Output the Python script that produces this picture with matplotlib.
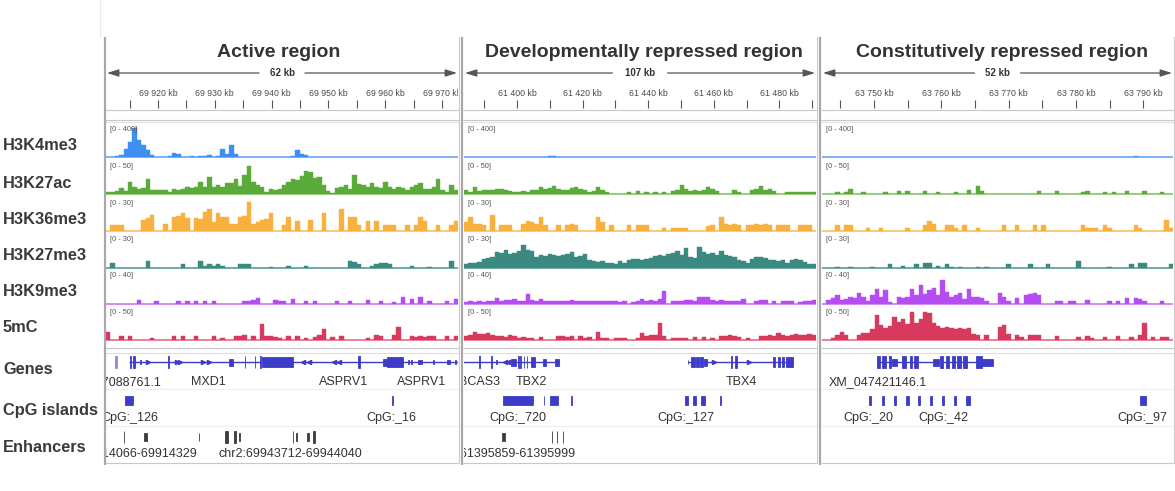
import matplotlib
matplotlib.use('Agg')
import matplotlib.pyplot as plt
from matplotlib.patches import Rectangle
import numpy as np

plt.rcParams['font.family'] = ['Liberation Sans', 'DejaVu Sans']

W, H = 1175, 491

# ------------------------------------------------------------------ data
panel_titles = ['Active region', 'Developmentally repressed region', 'Constitutively repressed region']
panel_spans = ['62 kb', '107 kb', '52 kb']
panel_ranges_kb = [(69910.85, 69972.8), (61383.8, 61491.2), (63742.3, 63794.4)]
panel_ticks_kb = [list(range(69915, 69971, 5)), list(range(61390, 61491, 10)), list(range(63745, 63791, 5))]
panel_labeled_ticks_kb = [[69920, 69930, 69940, 69950, 69960, 69970],
                          [61400, 61420, 61440, 61460, 61480],
                          [63750, 63760, 63770, 63780, 63790]]

track_names = ['H3K4me3', 'H3K27ac', 'H3K36me3', 'H3K27me3', 'H3K9me3', '5mC']
track_max = [400, 50, 30, 30, 40, 50]
feature_track_names = ['Genes', 'CpG islands', 'Enhancers']

# signal values, 80 equal bins across each panel
h3k4me3_active = [0,10,20,30,110,190,370,220,160,90, 30,12,8,5,15,60,45,8,5,15,
                  10,15,20,25,10,15,100,40,150,40, 10,0,5,0,0,0,0,0,0,0,
                  0,0,20,90,45,35,10,10,0,0, 0,0,0,0,0,0,0,0,5,3,
                  0,0,0,0,0,0,0,0,0,0, 0,0,0,0,0,0,0,0,0,0]
h3k27ac_active = [3,3,5,10,5,19,12,8,10,24, 6,7,6,7,4,8,7,8,12,10,
                  12,20,11,27,12,14,11,17,18,24, 13,30,44,20,14,12,4,8,7,9,
                  15,20,24,22,28,37,35,25,27,15, 5,2,10,12,15,8,30,16,14,12,
                  17,11,10,20,12,9,11,10,7,12, 14,17,9,8,12,24,6,4,15,6]
h3k36me3_active = [0,6,6,6,0,0,0,0,10,12, 15,0,0,7,0,13,14,17,12,0,
                   12,11,18,21,8,17,13,13,7,7, 13,14,27,7,8,10,11,17,0,0,
                   6,13,0,9,0,0,10,0,0,17, 0,0,0,21,0,13,13,6,0,9,
                   0,9,0,6,6,6,0,0,6,0, 6,13,9,0,0,6,0,0,6,9]
h3k27me3_active = [0,4,0,0,0,0,0,0,0,6, 0,0,0,0,0,0,0,3,0,0,
                   0,6,2,3,2,3,2,0,0,0, 3,3,3,0,0,0,0,1,0,0,
                   0,2,0,0,0,2,0,0,0,0, 0,0,0,0,0,6,5,3,0,0,
                   2,3,4,4,3,0,0,0,0,2, 0,0,0,1,0,0,0,0,6,0]
h3k9me3_active = [0,0,0,0,0,0,0,5,0,0, 0,4,0,0,0,0,3,0,4,0,
                  4,0,3,0,3,0,0,0,0,0, 0,3,4,5,7,0,0,0,5,3,
                  4,0,6,0,0,4,0,4,0,0, 0,0,3,0,0,4,0,0,0,5,
                  0,0,4,0,0,2,0,9,0,6, 0,9,0,3,0,0,0,3,0,6]
mc5_active = [13,0,0,6,0,6,0,0,0,0, 4,0,0,0,0,6,0,6,0,0,
              6,0,0,0,6,0,4,0,0,7, 6,8,0,6,0,25,7,6,5,4,
              0,6,0,6,0,3,0,5,8,17, 0,5,0,6,0,0,0,0,0,3,
              0,8,6,0,0,8,21,0,0,6, 5,6,5,6,7,0,0,7,0,7]

h3k4me3_dev = [0,0,0,0,0,0,0,0,10,0, 10,0,8,0,8,0,0,0,0,20,
               18,10,0,0,0,0,0,0,0,0, 0,0,0,0,0,0,0,0,0,0,
               0,0,0,0,8,0,0,0,0,0, 0,0,0,8,0,0,0,0,0,0,
               0,0,0,0,0,0,0,0,0,0, 8,0,0,0,0,0,0,0,0,0]
h3k27ac_dev = [6,4,12,5,6,6,7,8,9,6, 5,4,3,5,4,6,6,12,8,10,
               13,8,6,7,10,12,8,6,4,5, 12,7,4,0,0,0,0,4,0,5,
               0,3,0,4,0,4,0,5,6,15, 8,5,6,5,7,12,8,5,0,0,
               0,7,3,0,0,6,9,13,6,8, 5,0,0,4,4,3,4,3,4,3]
h3k36me3_dev = [8,13,7,7,6,0,15,0,6,6, 6,0,0,7,9,8,7,13,6,0,
                0,6,0,6,7,6,0,0,0,0, 13,8,0,6,0,0,0,6,0,6,
                6,6,0,0,0,3,0,3,3,3, 3,0,0,0,0,5,6,0,13,7,
                6,7,6,0,6,6,7,6,7,6, 0,6,6,6,0,0,6,6,6,0]
h3k27me3_dev = [3,4,4,5,8,9,10,15,14,17, 13,14,16,21,17,16,10,12,11,13,
                12,11,12,13,15,10,11,13,7,6, 5,6,4,4,3,6,4,7,8,8,
                7,8,9,11,12,11,13,14,16,12, 18,10,9,19,15,13,14,12,16,12,
                11,10,7,6,4,8,10,10,9,7, 7,6,7,4,7,8,7,5,3,3]
h3k9me3_dev = [2,3,2,3,2,3,3,7,4,5, 5,6,4,4,12,5,3,6,4,3,
               4,3,4,3,5,4,3,4,3,3, 4,3,3,3,4,2,3,0,2,3,
               6,3,5,4,6,16,0,4,3,3, 5,5,3,9,9,8,5,4,5,4,
               4,3,3,6,0,0,3,5,5,0, 3,0,3,3,3,0,2,3,3,5]
mc5_dev = [7,9,13,10,10,11,8,7,6,5, 8,6,4,5,3,4,0,5,0,0,
           0,6,6,5,6,0,6,3,5,0, 13,4,4,0,3,4,3,0,0,3,
           11,6,8,9,27,6,0,4,4,4, 3,0,5,0,5,0,4,0,7,6,
           8,6,5,0,4,0,0,6,7,8, 6,12,8,6,9,10,8,9,10,8]

h3k4me3_const = [0]*46 + [8] + [0]*24 + [15] + [0]*8
h3k27ac_const = [0,0,0,4,0,3,8,0,0,4, 0,0,0,0,3,0,0,5,0,5,
                 0,0,0,5,0,0,3,0,0,0, 3,0,0,6,0,13,5,0,0,0,
                 0,0,0,0,0,0,0,0,0,5, 0,0,0,5,0,0,0,0,0,3,
                 5,0,0,0,3,0,3,0,0,5, 0,0,0,5,0,0,0,3,0,0]
h3k36me3_const = [0,0,0,6,0,6,6,0,0,0, 3,0,0,3,0,0,0,0,0,3,
                  0,0,0,6,9,7,0,0,6,6, 3,0,6,0,0,3,0,0,0,0,
                  0,6,0,0,6,0,0,0,6,0, 6,0,0,0,0,0,0,0,0,6,
                  3,3,3,0,6,3,0,0,0,0, 0,6,3,0,0,0,0,0,10,3]
h3k27me3_const = [0,0,0,1,0,0,1,0,0,0, 0,1,0,0,0,3,0,0,2,0,
                  0,3,0,4,4,0,2,0,3,1, 0,1,0,0,0,1,0,1,0,0,
                  0,0,3,0,0,0,0,3,0,0, 0,3,0,0,0,0,0,0,6,0,
                  0,0,0,0,0,1,0,0,0,0, 3,0,4,4,0,0,0,0,0,3]
h3k9me3_const = [0,5,7,11,5,6,8,7,13,8, 4,11,19,9,17,2,0,9,7,9,
                 19,11,23,12,17,20,11,30,15,9, 11,13,6,18,8,8,7,4,0,0,
                 13,8,4,0,7,0,11,12,13,11, 0,0,0,3,3,0,3,3,0,0,
                 5,0,0,0,0,3,0,3,0,7, 0,7,6,4,0,0,0,3,0,0]
mc5_const = [0,0,3,8,13,8,0,0,9,11, 12,18,40,24,20,22,37,28,33,25,
             45,27,33,45,42,27,22,19,21,19, 18,20,17,20,10,8,0,8,0,0,
             21,24,10,0,9,5,0,8,9,8, 0,0,0,6,0,0,0,0,5,0,
             6,4,0,0,5,0,0,6,0,0, 5,0,8,27,0,5,0,5,5,0]

signals = [
    [h3k4me3_active, h3k27ac_active, h3k36me3_active, h3k27me3_active, h3k9me3_active, mc5_active],
    [h3k4me3_dev, h3k27ac_dev, h3k36me3_dev, h3k27me3_dev, h3k9me3_dev, mc5_dev],
    [h3k4me3_const, h3k27ac_const, h3k36me3_const, h3k27me3_const, h3k9me3_const, mc5_const],
]

# gene models (kb): intron lines, exons (start, end, kind), strand marks
gene_lines = [[(69914.95, 69976.0)],
              [(61380.0, 61412.7), (61452.1, 61484.1)],
              [(63750.4, 63767.75)]]
gene_exons = [
    [(69912.5, 69912.7, 'nc'), (69915.0, 69915.25, 'tall'), (69915.65, 69915.9, 'tall'),
     (69916.8, 69916.95, 'small'), (69921.75, 69921.9, 'tall'), (69932.55, 69933.25, 'mid'),
     (69935.25, 69935.4, 'tall'), (69937.0, 69937.15, 'tall'), (69937.9, 69938.05, 'tall'),
     (69938.35, 69943.7, 'thick'), (69955.25, 69955.55, 'tall'), (69959.65, 69960.3, 'mid'),
     (69960.3, 69963.2, 'thick'), (69964.0, 69964.15, 'small'), (69964.6, 69964.75, 'small'),
     (69965.8, 69966.4, 'small'), (69968.4, 69968.55, 'small'), (69970.8, 69971.4, 'small'),
     (69972.25, 69972.4, 'small')],
    [(61388.5, 61388.7, 'tall'), (61392.05, 61392.4, 'tall'), (61393.6, 61393.75, 'small'),
     (61398.2, 61399.7, 'mid'), (61400.3, 61400.6, 'tall'), (61401.0, 61401.3, 'tall'),
     (61402.0, 61402.25, 'tall'), (61402.9, 61403.15, 'tall'), (61404.1, 61405.5, 'thick'),
     (61407.9, 61408.9, 'mid'), (61411.45, 61412.7, 'mid'),
     (61452.05, 61452.2, 'small'), (61453.0, 61454.3, 'thick'), (61454.6, 61455.4, 'thick'),
     (61455.8, 61456.6, 'thick'), (61457.0, 61457.8, 'mid'), (61465.3, 61465.6, 'tall'),
     (61466.6, 61466.95, 'tall'), (61478.0, 61478.8, 'thick'), (61479.5, 61480.25, 'thick'),
     (61480.75, 61481.35, 'thick'), (61482.05, 61484.1, 'thick')],
    [(63750.42, 63750.91, 'tall'), (63751.17, 63751.76, 'tall'), (63752.25, 63752.55, 'tall'),
     (63752.65, 63753.4, 'mid'), (63754.23, 63754.73, 'tall'), (63755.37, 63755.71, 'tall'),
     (63756.01, 63756.51, 'tall'), (63758.83, 63759.68, 'mid'), (63759.83, 63760.32, 'tall'),
     (63760.67, 63761.16, 'tall'), (63761.56, 63762.05, 'tall'), (63762.39, 63762.9, 'tall'),
     (63763.2, 63763.8, 'tall'), (63765.17, 63766.02, 'tall'), (63766.02, 63767.74, 'mid')],
]
strand_plus = [[69918.3, 69923.3, 69923.9, 69928.0, 69928.9], [61460.2, 61470.9], []]
strand_minus = [[69945.6, 69946.5, 69950.9, 69951.8], [61396.2, 61397.2], []]
gene_labels = [[('XM_047088761.1', 69912.0), ('MXD1', 69928.86), ('ASPRV1', 69952.63), ('ASPRV1', 69966.4)],
               [('BCAS3', 61388.4), ('TBX2', 61404.3), ('TBX4', 61468.35)],
               [('XM_047421146.1', 63750.6)]]

cpg_islands = [
    [(69914.2, 69915.55), (69961.25, 69961.4)],
    [(61395.7, 61404.8), (61408.1, 61408.3), (61409.9, 61412.5), (61416.4, 61416.6),
     (61451.1, 61452.1), (61453.6, 61454.6), (61456.0, 61457.2), (61461.9, 61462.1)],
    [(63749.35, 63749.6), (63751.25, 63751.5), (63753.0, 63753.25), (63754.75, 63755.2),
     (63756.6, 63756.85), (63758.4, 63758.65), (63760.15, 63760.4), (63761.95, 63762.2),
     (63763.7, 63764.25), (63789.5, 63790.4)],
]
cpg_labels = [[('CpG:_126', 69915.0), ('CpG:_16', 69961.1)],
              [('CpG:_720', 61400.3), ('CpG:_127', 61451.6)],
              [('CpG:_20', 63749.18), ('CpG:_42', 63760.32), ('CpG:_97', 63789.8)]]

enhancers = [
    [(69914.0, 69914.05, 'tall'), (69917.6, 69918.0, 'mid'), (69927.15, 69927.25, 'mid'),
     (69931.8, 69932.4, 'tall'), (69933.4, 69933.7, 'tall'), (69934.2, 69934.5, 'mid'),
     (69943.7, 69943.75, 'tall'), (69944.25, 69944.55, 'mid'), (69946.2, 69946.65, 'mid'),
     (69947.35, 69947.6, 'tall')],
    [(61395.5, 61396.4, 'mid'), (61410.55, 61410.65, 'tall'), (61412.15, 61412.25, 'tall'),
     (61413.95, 61414.05, 'tall')],
    [],
]
enhancer_labels = [[('chr2:69914066-69914329', 69914.2), ('chr2:69943712-69944040', 69943.25)],
                   [('chr2:61395859-61395999', 61395.93)],
                   []]

# ------------------------------------------------------------------ style / layout
track_colors = ['#3f8ef2', '#5bab3b', '#f8b03f', '#3b8a82', '#b64cf3', '#d83a5e']
base_colors = ['#8cbcf7', '#a6d58f', '#fbd08a', '#7fb3ad', '#d99cf8', '#eb93a9']
gene_color = '#3c3cc8'
enh_color = '#3d3d3d'
text_color = '#333333'

data_x = [(106, 458), (464, 816), (822, 1173)]
title_shift_px = [-3, 4, 5]
track_base = [157.5, 194.3, 231.0, 267.7, 303.7, 340.3]
label_y = [145, 183, 219, 255, 292, 328]
feature_label_y = [370, 410, 447]
exon_h = {'tall': 12, 'thick': 10, 'mid': 7, 'small': 4, 'nc': 12}
enh_h = {'tall': 12, 'mid': 8}

fig = plt.figure(figsize=(W / 100, H / 100), dpi=100)
fig.patch.set_facecolor('white')


def ax_px(x0, y0, x1, y1, **kw):
    return fig.add_axes([x0 / W, 1 - y1 / H, (x1 - x0) / W, (y1 - y0) / H], **kw)


# overlay for frames and row labels
ov = ax_px(0, 0, W, H)
ov.set_xlim(0, W)
ov.set_ylim(H, 0)
ov.axis('off')
ov.patch.set_alpha(0)

ov.plot([99.5, 99.5], [0, 37], color='#e8e8e8', lw=0.8)
for (x0, x1) in data_x:
    for yy, c in [(110, '#c8c8c8'), (119.5, '#c8c8c8'), (121.5, '#e2e2e2'),
                  (347.5, '#c8c8c8'), (352.5, '#dddddd'), (388.5, '#efefef'),
                  (425.5, '#efefef'), (463, '#c8c8c8')]:
        ov.plot([x0 - 1, x1 + 1], [yy, yy], color=c, lw=0.8, solid_capstyle='butt')
    ov.plot([x1 + 0.5, x1 + 0.5], [37, 463], color='#cccccc', lw=0.8)
for xb in [104.5, 462, 819.8]:
    ov.plot([xb, xb], [37, 465], color='#a8a8a8', lw=1.6, solid_capstyle='butt')

for name, y in zip(track_names, label_y):
    ov.text(3, y, name, fontsize=11.8, weight='bold', color='#3a3a3a', va='center', ha='left')
for name, y in zip(feature_track_names, feature_label_y):
    ov.text(3, y, name, fontsize=11.8, weight='bold', color='#3a3a3a', va='center', ha='left')

for p in range(3):
    x0, x1 = data_x[p]
    lo, hi = panel_ranges_kb[p]
    # ---------------- ruler
    ru = ax_px(x0, 37, x1, 120)
    ru.set_xlim(lo, hi)
    ru.set_ylim(120, 37)
    ru.axis('off')
    kb_per_px = (hi - lo) / (x1 - x0)
    mid = (lo + hi) / 2
    ru.text(mid + title_shift_px[p] * kb_per_px, 52.5, panel_titles[p], fontsize=14, weight='bold',
            color=text_color, ha='center', va='center')
    half = 4.6 * len(panel_spans[p]) * kb_per_px
    ap = dict(arrowstyle='-|>,head_length=0.7,head_width=0.22', color='#555555', lw=0.9,
              shrinkA=0, shrinkB=0)
    ru.annotate('', xy=(lo + 1 * kb_per_px, 73), xytext=(mid - half, 73), arrowprops=ap)
    ru.annotate('', xy=(hi - 1 * kb_per_px, 73), xytext=(mid + half, 73), arrowprops=ap)
    ru.text(mid, 73, panel_spans[p], fontsize=7, weight='bold', color=text_color,
            ha='center', va='center')
    ru.vlines(panel_ticks_kb[p], 100, 107.5, color='#555555', lw=0.8)
    for v in panel_labeled_ticks_kb[p]:
        ru.text(v, 93, f'{v // 1000} {v % 1000:03d} kb', fontsize=6.3, color='#4a4a4a',
                ha='center', va='center', clip_on=True)

    # ---------------- signal tracks
    edges = np.linspace(lo, hi, len(signals[p][0]) + 1)
    for t in range(6):
        base = track_base[t]
        ax = ax_px(x0, base - 35, x1, base + 1.5)
        m = track_max[t]
        ax.set_xlim(lo, hi)
        ax.set_ylim(-1.5 * m / 32, 35 * m / 32)
        ax.axis('off')
        ax.bar(edges[:-1], signals[p][t], width=np.diff(edges), align='edge',
               color=track_colors[t], edgecolor=track_colors[t], linewidth=0.3)
        ax.axhline(0, color=base_colors[t], lw=1.4, zorder=0.5)
        ax.text(0.011, 0.9, f'[0 - {m}]', transform=ax.transAxes, fontsize=5.3,
                color='#555555', ha='left', va='top')

    # ---------------- feature tracks
    fa = ax_px(x0, 353, x1, 463)
    fa.set_xlim(lo, hi)
    fa.set_ylim(463, 353)
    fa.axis('off')
    gy = 362
    for s, e in gene_lines[p]:
        fa.hlines(gy, s, e, color=gene_color, lw=1.0)
    for s, e, kind in gene_exons[p]:
        h = exon_h[kind]
        col = '#8a8ae6' if kind == 'nc' else gene_color
        fa.add_patch(Rectangle((s, gy - h / 2), e - s, h, fc=col, ec=col, lw=0.6))
    if strand_plus[p]:
        fa.plot(strand_plus[p], [gy] * len(strand_plus[p]), ls='none', marker='>',
                ms=3, color=gene_color)
    if strand_minus[p]:
        fa.plot(strand_minus[p], [gy] * len(strand_minus[p]), ls='none', marker='<',
                ms=3, color=gene_color)
    for txt, x in gene_labels[p]:
        fa.text(x, 382.3, txt, fontsize=9, color=text_color, ha='center', va='center', clip_on=True)

    cy = 400
    for s, e in cpg_islands[p]:
        fa.add_patch(Rectangle((s, cy - 4.5), e - s, 9, fc=gene_color, ec=gene_color, lw=0.6))
    for txt, x in cpg_labels[p]:
        fa.text(x, 417.7, txt, fontsize=9, color=text_color, ha='center', va='center', clip_on=True)

    ey = 437
    for s, e, kind in enhancers[p]:
        h = enh_h[kind]
        fa.add_patch(Rectangle((s, ey - h / 2), e - s, h, fc=enh_color, ec=enh_color, lw=0.6))
    for txt, x in enhancer_labels[p]:
        fa.text(x, 454.3, txt, fontsize=9, color=text_color, ha='center', va='center', clip_on=True)

fig.savefig('out.png', dpi=100, facecolor='white')
